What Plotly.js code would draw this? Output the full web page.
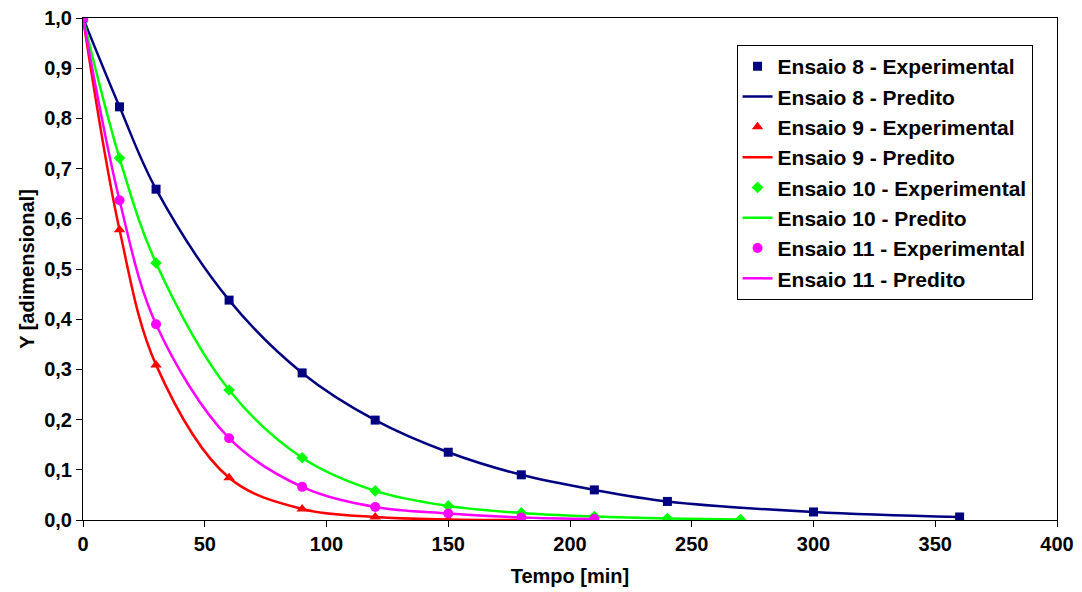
<!DOCTYPE html>
<html>
<head>
<meta charset="utf-8">
<script src="https://cdn.plot.ly/plotly-3.0.1.min.js"></script>
<style>html,body{margin:0;padding:0;background:#fff;}#chart{width:1082px;height:592px;}</style>
</head>
<body>
<div id="chart"></div>
<script>
const t8 = [0, 15, 30, 60, 90, 120, 150, 180, 210, 240, 300, 360];
const exp8 = [1.0, 0.823, 0.659, 0.438, 0.293, 0.199, 0.135, 0.090, 0.060, 0.037, 0.016, 0.006];
const pred8 = [1.0, 0.823, 0.659, 0.438, 0.293, 0.199, 0.135, 0.090, 0.060, 0.037, 0.016, 0.006];

const t9 = [0, 15, 30, 60, 90, 120, 150, 180];
const exp9 = [1.0, 0.578, 0.309, 0.084, 0.022, 0.006, 0.001, 0.0];
const pred9 = [1.0, 0.578, 0.309, 0.084, 0.022, 0.006, 0.001, 0.0];

const t10 = [0, 15, 30, 60, 90, 120, 150, 180, 210, 240, 270];
const exp10 = [1.0, 0.721, 0.512, 0.259, 0.124, 0.058, 0.028, 0.014, 0.007, 0.003, 0.001];
const pred10 = [1.0, 0.721, 0.512, 0.259, 0.124, 0.058, 0.028, 0.014, 0.007, 0.003, 0.001];

const t11 = [0, 15, 30, 60, 90, 120, 150, 180, 210];
const exp11 = [1.0, 0.637, 0.390, 0.163, 0.066, 0.026, 0.013, 0.005, 0.002];
const pred11 = [1.0, 0.637, 0.390, 0.163, 0.066, 0.026, 0.013, 0.005, 0.002];

const names = ['Ensaio 8', 'Ensaio 9', 'Ensaio 10', 'Ensaio 11'];
const colors = ['#000080', '#FF0000', '#00FF00', '#FF00FF'];
const symbols = ['square', 'triangle-up', 'diamond', 'circle'];
const sizes = [9, 10, 9, 10];
const times = [t8, t9, t10, t11];
const exps = [exp8, exp9, exp10, exp11];
const preds = [pred8, pred9, pred10, pred11];

const traces = [];
for (let i = 0; i < 4; i++) {
  traces.push({
    x: times[i], y: preds[i], mode: 'lines', type: 'scatter',
    name: names[i] + ' - Predito', legendrank: 2 * i + 2,
    line: {color: colors[i], width: 2.5, shape: 'spline', smoothing: 1}
  });
}
for (let i = 0; i < 4; i++) {
  traces.push({
    x: times[i], y: exps[i], mode: 'markers', type: 'scatter',
    name: names[i] + ' - Experimental', legendrank: 2 * i + 1,
    marker: {color: colors[i], symbol: symbols[i], size: sizes[i]}
  });
}

const fam = '"Liberation Sans", Arial, sans-serif';
const bold = (size) => ({family: fam, size: size, color: '#000', weight: 700});
const layout = {
  width: 1082, height: 592,
  margin: {l: 83, r: 25, t: 18, b: 72},
  paper_bgcolor: '#fff', plot_bgcolor: '#fff',
  font: bold(20),
  separators: ',.',
  showlegend: true,
  legend: {
    x: 0.671, y: 0.946, xanchor: 'left', yanchor: 'top',
    bordercolor: '#000', borderwidth: 1, bgcolor: '#fff',
    font: bold(21),
    traceorder: 'normal', tracegroupgap: 0, itemwidth: 30
  },
  xaxis: {
    range: [0, 400], dtick: 50, tick0: 0,
    showgrid: false, zeroline: false,
    showline: true, linecolor: '#000', linewidth: 1, mirror: true,
    ticks: 'outside', ticklen: 6, tickcolor: '#000',
    tickfont: bold(20),
    title: {text: 'Tempo [min]', standoff: 14, font: bold(20)}
  },
  yaxis: {
    range: [0, 1], dtick: 0.1, tick0: 0, tickformat: '.1f',
    showgrid: false, zeroline: false,
    showline: true, linecolor: '#000', linewidth: 1, mirror: true,
    ticks: 'outside', ticklen: 6, tickcolor: '#000',
    tickfont: bold(20),
    title: {text: 'Y [adimensional]', standoff: 4, font: bold(20)}
  }
};

Plotly.newPlot('chart', traces, layout, {staticPlot: true, displayModeBar: false});
</script>
</body>
</html>
